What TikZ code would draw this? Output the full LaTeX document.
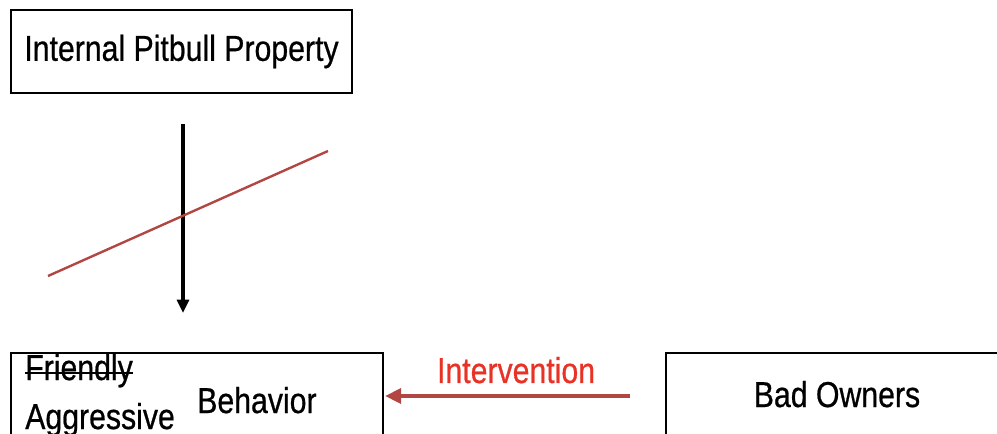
\documentclass[tikz,border=0pt]{standalone}
\usepackage{fontspec}
\setmainfont{Liberation Sans}[FakeStretch=0.84, FakeBold=0.6]
\usetikzlibrary{arrows.meta}

\definecolor{causered}{RGB}{178,70,66}
\definecolor{labelred}{RGB}{232,50,38}

\begin{document}
\begin{tikzpicture}
		[
			x=0.75pt, y=-0.75pt,
			box/.style={draw, line width=1.1pt, inner sep=0pt},
			lbl/.style={font=\fontsize{27}{31}\selectfont, inner sep=0pt},
			cause/.style={line width=2.3pt, -{Triangle[length=10pt, width=9pt]}},
		]
		\clip (0,0) rectangle (997,433);

		% Boxes
		\foreach \name/\x/\y/\w/\h in
		{
			property/181.5/51.5/341/83,
			behavior/197/413/372/120,
			owners/848/413/364/120
		}
			\node[box, minimum width={0.75pt*\w}, minimum height={0.75pt*\h}] (\name) at (\x,\y) {};

		% Texts
		\node[lbl] (propertytext) at (property.center) {Internal Pitbull Property};
		\node[lbl, anchor=base west] (friendly) at (25,380) {Friendly};
		\node[lbl, anchor=base west] (aggressive) at (25,429) {Aggressive};
		\node[lbl, anchor=base west] (behaviortext) at (197,413) {Behavior};
		\node[lbl, anchor=base] (ownerstext) at (837,407) {Bad Owners};

		% strike through Friendly
		\draw[line width=1.5pt] ([yshift=5.5pt]friendly.base west) -- ([yshift=5.5pt]friendly.base east);

		% Edges
		\coordinate (down top) at (183,124);
		\coordinate (down tip) at (183,313);
		\coordinate (cut low) at (48,276);
		\coordinate (cut high) at (328,151);
		\coordinate (iv start) at (630,396);
		\coordinate (iv tip) at (385,396);

		\draw[cause] (down top) -- (down tip);
		\draw[causered, line width=1.8pt] (cut low) -- (cut high);
		\draw[cause, causered, line width=3pt, -{Triangle[length=12pt, width=11pt]}] (iv start) -- (iv tip)
			node[lbl, pos=0.465, above=8pt, text=labelred] (intervention) {Intervention};

		\end{tikzpicture}
\end{document}
